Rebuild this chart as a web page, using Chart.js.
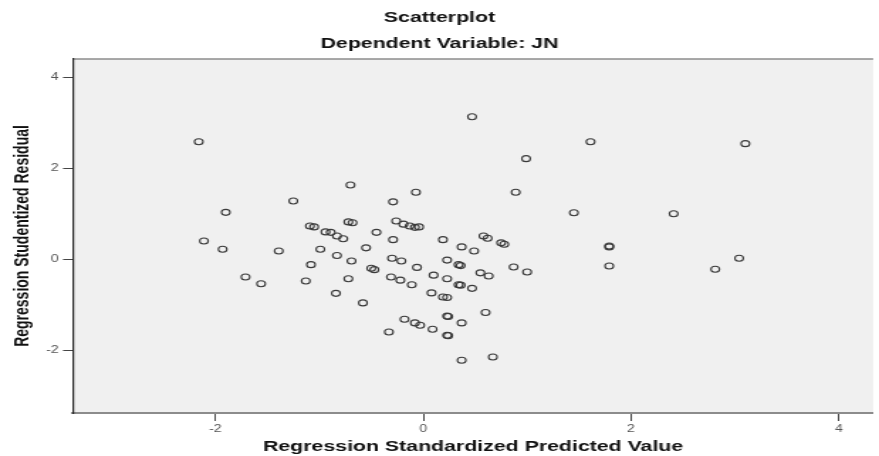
<!DOCTYPE html>
<html>
<head>
<meta charset="utf-8">
<script src="https://cdn.jsdelivr.net/npm/chart.js@4.4.0/dist/chart.umd.min.js"></script>
<style>
  html, body { margin: 0; padding: 0; background: #fff; }
</style>
</head>
<body>
<!-- the SPSS export is stretched sideways, so draw narrow and let css stretch it -->
<canvas id="plot" width="619" height="456" style="width:879px;height:456px"></canvas>
<script>
const xValues = [
  -2.16, -2.11, -1.93, -1.90, -1.71, -1.56, -1.39, -1.25, -1.08, -1.13,
  -0.84, -1.09, -1.05, -0.94, -0.89, -0.83, -0.77, -0.99, -0.83, -0.70,
  -0.72, -0.68, -0.45, -0.26, -0.19, -0.13, -0.08, -0.04, -0.29, -0.07,
  -0.29, -0.55, -0.69, -0.30, -0.21, -0.06, -0.50, -0.47, 0.10, -0.72,
  -0.31, -0.22, -0.11, 0.08, -0.58, 0.89, 0.19, 0.37, 0.49, 0.58,
  0.62, 0.75, 0.78, 0.23, 0.34, 0.36, 0.87, 1.00, 0.23, 0.55,
  0.63, 0.34, 0.36, 0.47, 0.19, 0.23, 0.60, -0.18, -0.08, -0.03,
  0.09, 0.23, 0.24, 0.37, -0.33, 0.23, 0.24, 0.37, 0.67, 0.47,
  0.99, 1.61, 1.45, 2.41, 1.79, 1.79, 1.79, 2.81, 3.04, 3.10
];
const yValues = [
  2.59, 0.41, 0.23, 1.04, -0.38, -0.53, 0.19, 1.29, -0.11, -0.47,
  -0.74, 0.74, 0.72, 0.61, 0.60, 0.52, 0.46, 0.23, 0.09, 1.64,
  0.83, 0.81, 0.60, 0.85, 0.78, 0.74, 0.71, 0.72, 1.27, 1.48,
  0.44, 0.26, -0.03, 0.03, -0.03, -0.17, -0.19, -0.22, -0.34, -0.42,
  -0.38, -0.45, -0.55, -0.73, -0.95, 1.48, 0.44, 0.28, 0.19, 0.52,
  0.47, 0.37, 0.34, -0.01, -0.11, -0.13, -0.16, -0.27, -0.42, -0.29,
  -0.36, -0.55, -0.56, -0.63, -0.82, -0.83, -1.16, -1.31, -1.39, -1.44,
  -1.53, -1.24, -1.25, -1.39, -1.59, -1.66, -1.67, -2.21, -2.14, 3.14,
  2.22, 2.59, 1.03, 1.01, 0.28, 0.30, -0.14, -0.21, 0.03, 2.55
];
const xTicks = [-2, 0, 2, 4];
const yTicks = [-2, 0, 2, 4];
const xRange = [-3.37, 4.33];
const yRange = [-3.37, 4.41];

const points = xValues.map((x, i) => ({ x: x, y: yValues[i] }));

const family = '"Liberation Sans", Arial, sans-serif';

// grey plot box with the thin top frame line
const plotBackground = {
  id: 'plotBackground',
  beforeDraw(chart) {
    const { ctx, chartArea: a } = chart;
    ctx.save();
    ctx.fillStyle = '#f0f0f0';
    ctx.fillRect(a.left, a.top, a.right - a.left, a.bottom - a.top);
    ctx.strokeStyle = '#8c8c8c';
    ctx.lineWidth = 1.5;
    ctx.beginPath();
    ctx.moveTo(a.left, a.top);
    ctx.lineTo(a.right, a.top);
    ctx.stroke();
    ctx.restore();
  }
};

new Chart(document.getElementById('plot'), {
  type: 'scatter',
  data: {
    datasets: [{
      data: points,
      pointRadius: 3,
      pointHoverRadius: 3,
      pointBorderWidth: 1.1,
      pointBorderColor: '#3a3a3a',
      pointBackgroundColor: 'rgba(0,0,0,0)'
    }]
  },
  options: {
    responsive: false,
    animation: false,
    layout: { padding: 0 },
    plugins: {
      legend: { display: false },
      tooltip: { enabled: false },
      title: {
        display: true,
        text: 'Scatterplot',
        color: '#111',
        font: { family: family, size: 15, weight: 'bold' },
        padding: { top: 9, bottom: 0 }
      },
      subtitle: {
        display: true,
        text: 'Dependent Variable: JN',
        color: '#111',
        font: { family: family, size: 15, weight: 'bold' },
        padding: { top: 7.5, bottom: 6.5 }
      }
    },
    scales: {
      x: {
        type: 'linear',
        position: 'bottom',
        min: xRange[0],
        max: xRange[1],
        afterBuildTicks: (scale) => { scale.ticks = xTicks.map(v => ({ value: v })); },
        afterFit: (scale) => { scale.height = 43; },
        grid: { drawOnChartArea: false, tickLength: 8, tickColor: '#444', tickWidth: 1 },
        border: { color: '#8c8c8c', width: 2 },
        ticks: { padding: 2, color: '#555', font: { family: family, size: 10 } },
        title: {
          display: true,
          text: 'Regression Standardized Predicted Value',
          color: '#111',
          font: { family: family, size: 15, weight: 'bold' },
          padding: { top: 3, bottom: 0 }
        }
      },
      y: {
        type: 'linear',
        min: yRange[0],
        max: yRange[1],
        afterBuildTicks: (scale) => { scale.ticks = yTicks.map(v => ({ value: v })); },
        afterFit: (scale) => { scale.width = 51.4; },
        grid: { drawOnChartArea: false, tickLength: 7, tickColor: '#444', tickWidth: 1 },
        border: { color: '#222', width: 1.2 },
        ticks: { padding: 3, color: '#555', font: { family: family, size: 10 } },
        title: {
          display: true,
          text: 'Regression Studentized Residual',
          color: '#111',
          font: { family: family, size: 14, weight: 'bold' },
          padding: { top: 8, bottom: 0 }
        }
      }
    }
  },
  plugins: [plotBackground]
});
</script>
</body>
</html>
